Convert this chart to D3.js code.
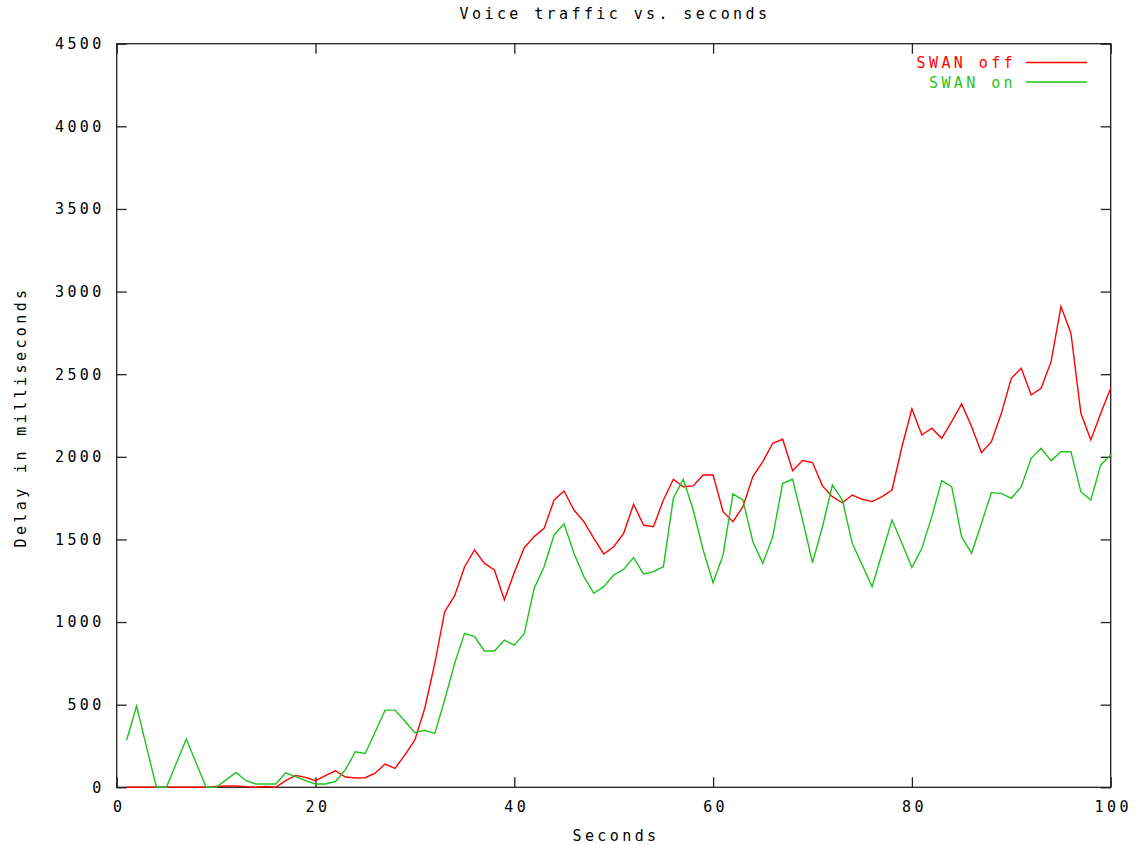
<!DOCTYPE html>
<html lang="en">
<head>
  <meta charset="utf-8">
  <title>Voice traffic vs. seconds</title>
  <style>
    body { margin: 0; background: #fff; }
    svg text { font-family: "DejaVu Sans Mono", monospace; font-size: 15px; letter-spacing: 3.4px; fill: #000; }
    .tick line { stroke: #222; stroke-width: 1.3px; }
    .domain { display: none; }
  </style>
</head>
<body>
  <svg id="chart" width="1141" height="845"></svg>

  <script src="https://d3js.org/d3.v7.min.js"></script>
  <script>
    // seconds 1..100, delay in ms
    const seconds = d3.range(1, 101);

    const swanOff = [
      0, 0, 0, 0, 0, 0, 0, 0, 0, 5,
      8, 8, 3, 0, 5, 0, 40, 72, 60, 40,
      70, 100, 62, 56, 58, 85, 141, 115, 196, 287,
      480, 750, 1063, 1160, 1335, 1436, 1355, 1315, 1134, 1300,
      1450, 1517, 1567, 1739, 1793, 1678, 1607, 1507, 1412, 1456,
      1537, 1713, 1587, 1577, 1739, 1864, 1819, 1824, 1890, 1890,
      1668, 1607, 1698, 1880, 1971, 2082, 2106, 1916, 1977, 1965,
      1824, 1759, 1722, 1769, 1743, 1729, 1759, 1799, 2061, 2291,
      2132, 2173, 2112, 2213, 2320, 2183, 2025, 2092, 2263, 2475,
      2536, 2374, 2415, 2576, 2909, 2748, 2263, 2102, 2263, 2415
    ];

    const swanOn = [
      286, 492, 245, 0, 0, 145, 292, 145, 0, 0,
      45, 90, 40, 20, 20, 20, 88, 64, 40, 20,
      20, 35, 105, 215, 205, 335, 467, 467, 400, 330,
      345, 326, 530, 750, 932, 912, 825, 825, 890, 860,
      930, 1204, 1335, 1527, 1594, 1416, 1275, 1174, 1214, 1285,
      1319, 1390, 1291, 1305, 1335, 1749, 1864, 1678, 1436, 1238,
      1406, 1775, 1739, 1486, 1355, 1517, 1840, 1864, 1618, 1359,
      1577, 1829, 1739, 1477, 1345, 1214, 1416, 1618, 1477, 1330,
      1446, 1638, 1856, 1819, 1517, 1416, 1598, 1783, 1779, 1749,
      1819, 1991, 2052, 1977, 2031, 2031, 1789, 1739, 1951, 2011
    ];

    const series = [
      { name: "SWAN off", color: "#ff0000", values: swanOff },
      { name: "SWAN on", color: "#1fc21f", values: swanOn }
    ];

    const xTicks = [0, 20, 40, 60, 80, 100];
    const yTicks = d3.range(0, 4501, 500);

    const plotLeft = 116.7, plotRight = 1110.7, plotTop = 43.7, plotBottom = 787.3;

    const svg = d3.select("#chart");

    const x = d3.scaleLinear().domain([0, 100]).range([plotLeft, plotRight]);
    const y = d3.scaleLinear().domain([0, 4500]).range([plotBottom, plotTop]);

    // axes with inward ticks, mirrored on top and right
    svg.append("g")
      .attr("transform", `translate(0,${plotBottom})`)
      .call(d3.axisBottom(x).tickValues(xTicks).tickSizeInner(-10).tickSizeOuter(0).tickPadding(14))
      .selectAll("text").attr("dx", 2);

    svg.append("g")
      .attr("transform", `translate(0,${plotTop})`)
      .call(d3.axisTop(x).tickValues(xTicks).tickSizeInner(-10).tickSizeOuter(0).tickFormat(""));

    svg.append("g")
      .attr("transform", `translate(${plotLeft},0)`)
      .call(d3.axisLeft(y).tickValues(yTicks).tickFormat(d3.format("d"))
        .tickSizeInner(-10).tickSizeOuter(0).tickPadding(12));

    svg.append("g")
      .attr("transform", `translate(${plotRight},0)`)
      .call(d3.axisRight(y).tickValues(yTicks).tickSizeInner(-10).tickSizeOuter(0).tickFormat(""));

    svg.selectAll("g").attr("font-family", null).attr("font-size", null);

    // plot border
    svg.append("rect")
      .attr("x", plotLeft).attr("y", plotTop)
      .attr("width", plotRight - plotLeft).attr("height", plotBottom - plotTop)
      .attr("fill", "none").attr("stroke", "#222").attr("stroke-width", 1.3);

    const line = d3.line()
      .x((d, i) => x(seconds[i]))
      .y(d => y(d));

    svg.append("g").selectAll("path")
      .data(series)
      .join("path")
      .attr("fill", "none")
      .attr("stroke", d => d.color)
      .attr("stroke-width", 1.4)
      .attr("d", d => line(d.values));

    // legend, top right
    const legend = svg.append("g").selectAll("g")
      .data(series)
      .join("g")
      .attr("transform", (d, i) => `translate(0,${62.5 + i * 19.5})`);

    legend.append("text")
      .attr("x", 1016).attr("y", 5.5)
      .attr("text-anchor", "end")
      .style("fill", d => d.color)
      .text(d => d.name);

    legend.append("line")
      .attr("x1", 1026).attr("x2", 1087)
      .attr("stroke", d => d.color)
      .attr("stroke-width", 1.4);

    // titles
    svg.append("text")
      .attr("x", 615).attr("y", 19)
      .attr("text-anchor", "middle")
      .text("Voice traffic vs. seconds");

    svg.append("text")
      .attr("x", 616).attr("y", 841)
      .attr("text-anchor", "middle")
      .text("Seconds");

    svg.append("text")
      .attr("transform", "translate(26,417) rotate(-90)")
      .attr("text-anchor", "middle")
      .text("Delay in milliseconds");
  </script>
</body>
</html>
